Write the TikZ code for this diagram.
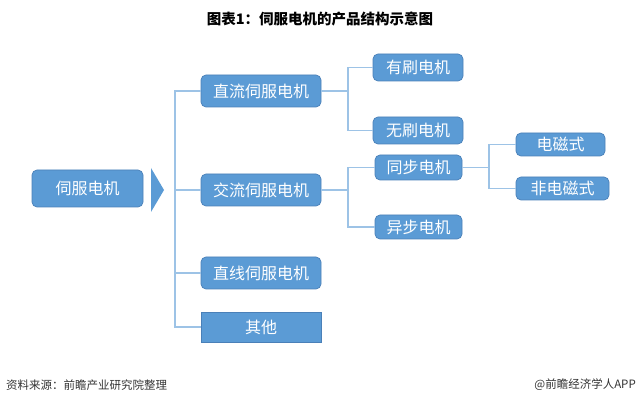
\documentclass[tikz,border=0pt]{standalone}
\usepackage{fontspec}
\setmainfont{Noto Sans CJK SC}
\usetikzlibrary{positioning}
\definecolor{boxblue}{HTML}{5B9BD5}
\definecolor{boxedge}{HTML}{4A80B8}
\definecolor{linkblue}{HTML}{9DC3E6}
\definecolor{foot}{HTML}{333333}
\begin{document}
\begin{tikzpicture}[x=1pt,y=-1pt,
  box/.style={fill=boxblue,draw=boxedge,line width=0.7pt,rounded corners=5pt,text=white,
    font=\fontsize{16}{18}\selectfont,inner sep=0pt,anchor=center},
  flatbox/.style={box,rounded corners=0pt},
  link/.style={draw=linkblue,line width=1.3pt}]
\useasboundingbox (0,0) rectangle (640,403);
\node[font=\fontsize{14.5}{16}\selectfont\bfseries] (title) at (320,19) {图表1：伺服电机的产品结构示意图};
% nodes
\node[box,minimum width=111pt,minimum height=37pt] (root) at (87.5,188.5) {伺服电机};
\fill[boxblue] (151,168) coordinate (ta) -- (164,190) coordinate (tb) -- (151,212) coordinate (tc) -- cycle;
\node[box,minimum width=120pt,minimum height=32pt] (dc) at (261,91) {直流伺服电机};
\node[box,minimum width=120pt,minimum height=32pt] (ac) at (261,190) {交流伺服电机};
\node[box,minimum width=120pt,minimum height=32pt] (lin) at (261,273) {直线伺服电机};
\node[flatbox,minimum width=120pt,minimum height=30pt] (oth) at (261,327) {其他};
\node[box,minimum width=90pt,minimum height=27pt] (brush) at (418,67.5) {有刷电机};
\node[box,minimum width=90pt,minimum height=27pt] (bless) at (418,130.5) {无刷电机};
\node[box,minimum width=87pt,minimum height=25pt] (syn) at (418.5,167.5) {同步电机};
\node[box,minimum width=87pt,minimum height=24pt] (asyn) at (418.5,227) {异步电机};
\node[box,minimum width=89pt,minimum height=23pt] (em) at (560.5,144.5) {电磁式};
\node[box,minimum width=93pt,minimum height=23pt] (nem) at (562.5,188.5) {非电磁式};
% connectors
\coordinate (t) at (175,0);
\coordinate (b1) at (348,0);
\coordinate (b2) at (489,0);
\draw[link] (dc.west) -- (dc.west -| t) -- (oth.west -| t) -- (oth.west);
\draw[link] (ac.west) -- (ac.west -| t);
\draw[link] (lin.west) -- (lin.west -| t);
\draw[link] (dc.east) -- (dc.east -| b1);
\draw[link] (brush.west) -- (brush.west -| b1) -- (bless.west -| b1) -- (bless.west);
\draw[link] (ac.east) -- (ac.east -| b1);
\draw[link] (syn.west) -- (syn.west -| b1) -- (asyn.west -| b1) -- (asyn.west);
\draw[link] (syn.east) -- (syn.east -| b2);
\draw[link] (em.west) -- (em.west -| b2) -- (nem.west -| b2) -- (nem.west);
% footer
\node[anchor=west,text=foot,font=\fontsize{11.5}{13}\selectfont,inner sep=0pt] (src) at (6,385) {资料来源：前瞻产业研究院整理};
\node[anchor=east,text=foot,font=\fontsize{11.5}{13}\selectfont,inner sep=0pt] (app) at (636,385) {@前瞻经济学人APP};
\end{tikzpicture}
\end{document}
